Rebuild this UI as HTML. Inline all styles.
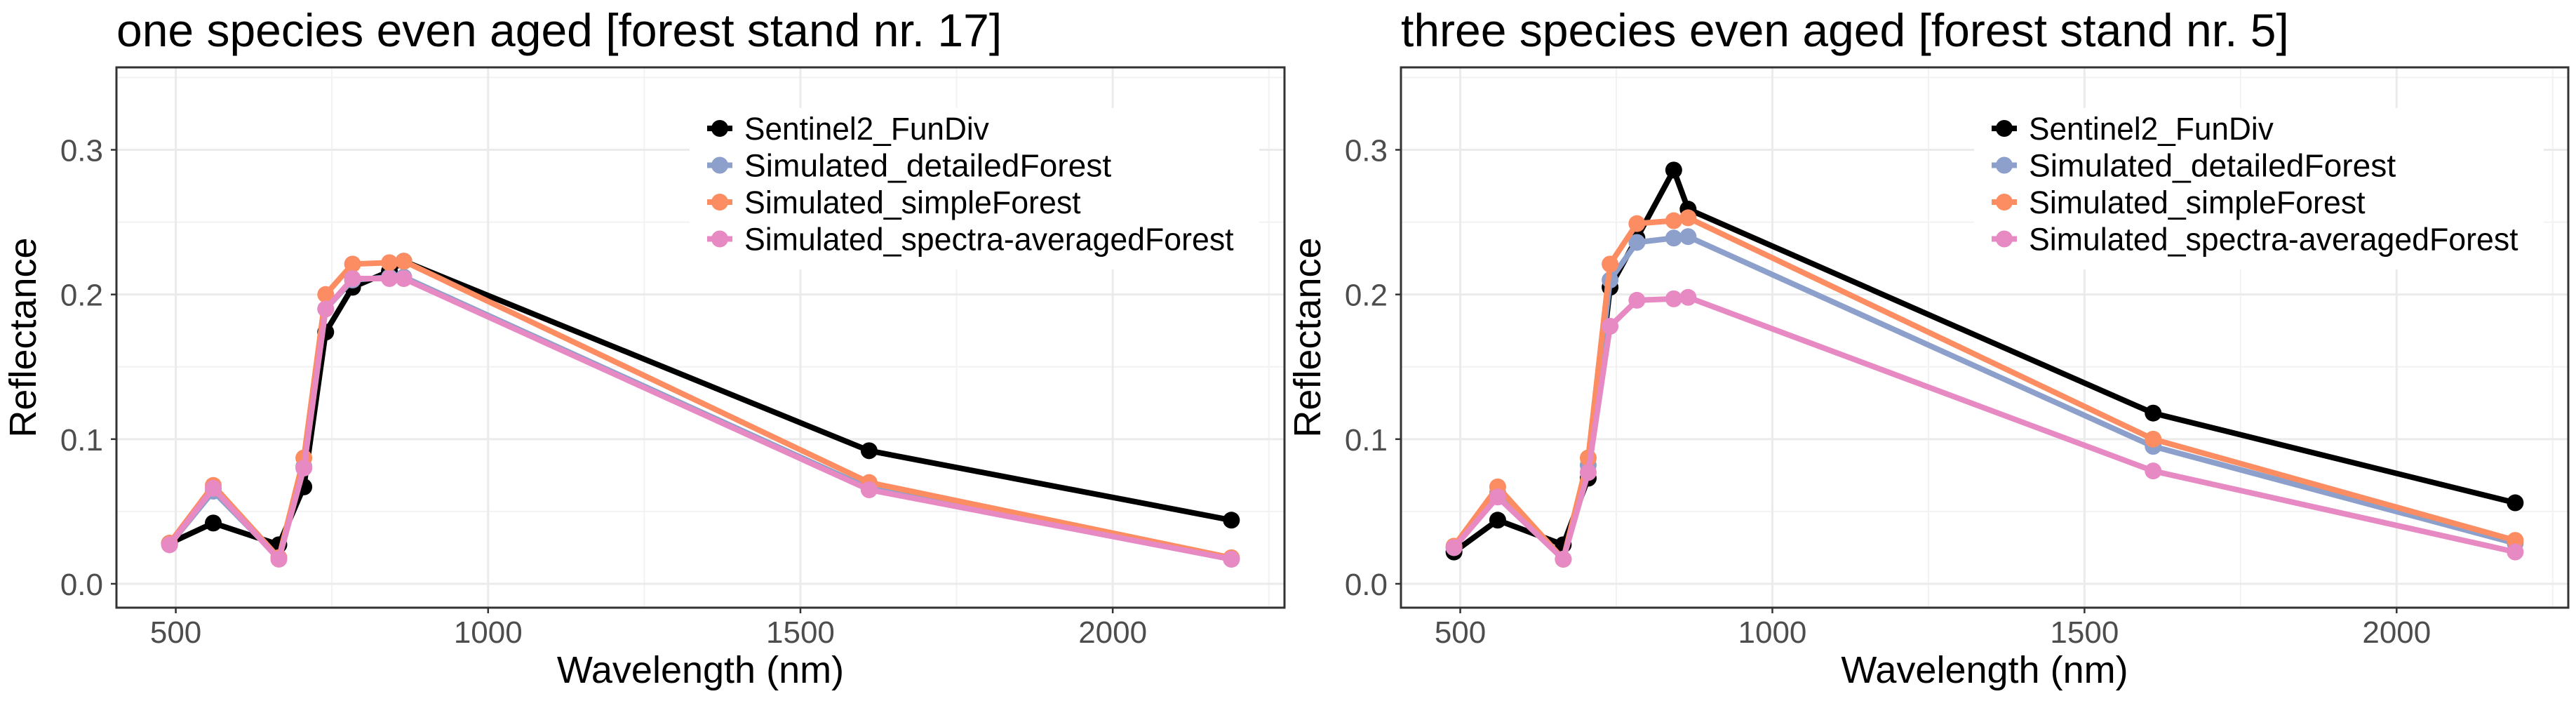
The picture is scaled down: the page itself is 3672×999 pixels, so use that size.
<!DOCTYPE html>
<html><head><meta charset="utf-8"><style>
html,body{margin:0;padding:0;background:#fff}
svg{display:block}
text{font-family:"Liberation Sans",Arial,sans-serif}
</style></head><body>
<svg id="chart" width="3672" height="999" xmlns="http://www.w3.org/2000/svg"></svg>
<script>
const wavelengths = [490, 560, 665, 705, 740, 783, 842, 865, 1610, 2190];
const seriesNames = ["Sentinel2_FunDiv","Simulated_detailedForest","Simulated_simpleForest","Simulated_spectra-averagedForest"];
const seriesColors = ["#000000","#8DA0CB","#FC8D62","#E78AC3"];
const xTicks = [500, 1000, 1500, 2000];
const yTicks = [0.0, 0.1, 0.2, 0.3];
const yTickLabels = ["0.0","0.1","0.2","0.3"];
const p1Sentinel = [0.028,0.042,0.027,0.067,0.174,0.205,0.216,0.223,0.092,0.044];
const p1Detailed = [0.027,0.064,0.018,0.081,0.190,0.210,0.212,0.212,0.066,0.017];
const p1Simple   = [0.028,0.068,0.018,0.087,0.200,0.221,0.222,0.223,0.070,0.018];
const p1Averaged = [0.027,0.066,0.017,0.080,0.190,0.211,0.211,0.211,0.065,0.017];
const p2Sentinel = [0.022,0.044,0.027,0.073,0.205,0.239,0.286,0.259,0.118,0.056];
const p2Detailed = [0.025,0.063,0.017,0.082,0.210,0.236,0.239,0.240,0.095,0.028];
const p2Simple   = [0.026,0.067,0.017,0.087,0.221,0.249,0.251,0.253,0.100,0.030];
const p2Averaged = [0.025,0.060,0.017,0.077,0.178,0.196,0.197,0.198,0.078,0.022];
const titles = ["one species even aged [forest stand nr. 17]","three species even aged [forest stand nr. 5]"];

const NS="http://www.w3.org/2000/svg";
const svg=document.getElementById('chart');
function mk(tag,attrs,parent){const e=document.createElementNS(NS,tag);for(const k in attrs)e.setAttribute(k,attrs[k]);(parent||svg).appendChild(e);return e;}

function panel(idx,left,right,series){
  const top=96,bottom=866;
  const xMin=405,xMax=2275,yMin=-0.0165,yMax=0.357;
  const X=v=>left+(v-xMin)/(xMax-xMin)*(right-left);
  const Y=v=>bottom-(v-yMin)/(yMax-yMin)*(bottom-top);
  const g=mk('g',{});
  
  
  [750,1250,1750,2250].forEach(v=>{const l=mk('line',{x1:X(v),x2:X(v),y1:top,y2:bottom,stroke:'#F2F2F2','stroke-width':2},g);});
  [0.05,0.15,0.25,0.35].forEach(v=>{const l=mk('line',{x1:left,x2:right,y1:Y(v),y2:Y(v),stroke:'#F2F2F2','stroke-width':2},g);});
  xTicks.forEach(v=>{const l=mk('line',{x1:X(v),x2:X(v),y1:top,y2:bottom,stroke:'#EBEBEB','stroke-width':3},g);});
  yTicks.forEach(v=>{const l=mk('line',{x1:left,x2:right,y1:Y(v),y2:Y(v),stroke:'#EBEBEB','stroke-width':3},g);});
  xTicks.forEach(v=>{
    mk('line',{x1:X(v),x2:X(v),y1:bottom,y2:bottom+8,stroke:'#333','stroke-width':2.5},g);
    const t=mk('text',{x:X(v),y:916,'text-anchor':'middle','font-size':44,fill:'#4D4D4D'},g);t.textContent=v;
    
  });
  yTicks.forEach((v,i)=>{
    mk('line',{x1:left-8,x2:left,y1:Y(v),y2:Y(v),stroke:'#333','stroke-width':2.5},g);
    const t=mk('text',{x:left-19,y:Y(v)+16,'text-anchor':'end','font-size':44,fill:'#4D4D4D'},g);t.textContent=yTickLabels[i];
    
  });
  series.forEach((vals,si)=>{
    const pts=vals.map((v,i)=>X(wavelengths[i])+','+Y(v)).join(' ');
    const pl=mk('polyline',{points:pts,fill:'none',stroke:seriesColors[si],'stroke-width':8,'stroke-linejoin':'round'},g);
    
    
    vals.forEach((v,i)=>{
      const c=mk('circle',{cx:X(wavelengths[i]),cy:Y(v),r:12,fill:seriesColors[si]},g);
      
      
    });
  });
  const lg=mk('g',{},g);
  
  
  const lx=left+817;
  mk('rect',{x:lx,y:154,width:812,height:230,fill:'#fff'},lg);
  seriesNames.forEach((n,i)=>{
    const cy=183+i*52.5;
    const e=mk('g',{},lg);
    
    
    mk('line',{x1:lx+25,x2:lx+61,y1:cy,y2:cy,stroke:seriesColors[i],'stroke-width':8},e);
    mk('circle',{cx:lx+43,cy:cy,r:12,fill:seriesColors[i]},e);
    const t=mk('text',{x:lx+78,y:cy+16,'font-size':45,fill:'#000',textLength:n.length*21.8,lengthAdjust:'spacingAndGlyphs'},e);t.textContent=n;
  });
  const b=mk('rect',{x:left,y:top,width:right-left,height:bottom-top,fill:'none',stroke:'#333','stroke-width':3},g);
  
  const tt=mk('text',{x:left,y:66,'font-size':66,fill:'#000'},g);tt.textContent=titles[idx];
  
  const xt=mk('text',{x:(left+right)/2,y:973,'text-anchor':'middle','font-size':54,fill:'#000'},g);xt.textContent='Wavelength (nm)';
  
  const yx=left-115;
  const yt=mk('text',{x:yx,y:481,'text-anchor':'middle','font-size':54,fill:'#000',transform:'rotate(-90 '+yx+' 481)'},g);yt.textContent='Reflectance';
  
}
panel(0,166,1831,[p1Sentinel,p1Detailed,p1Simple,p1Averaged]);
panel(1,1997,3661,[p2Sentinel,p2Detailed,p2Simple,p2Averaged]);
</script>
</body></html>
